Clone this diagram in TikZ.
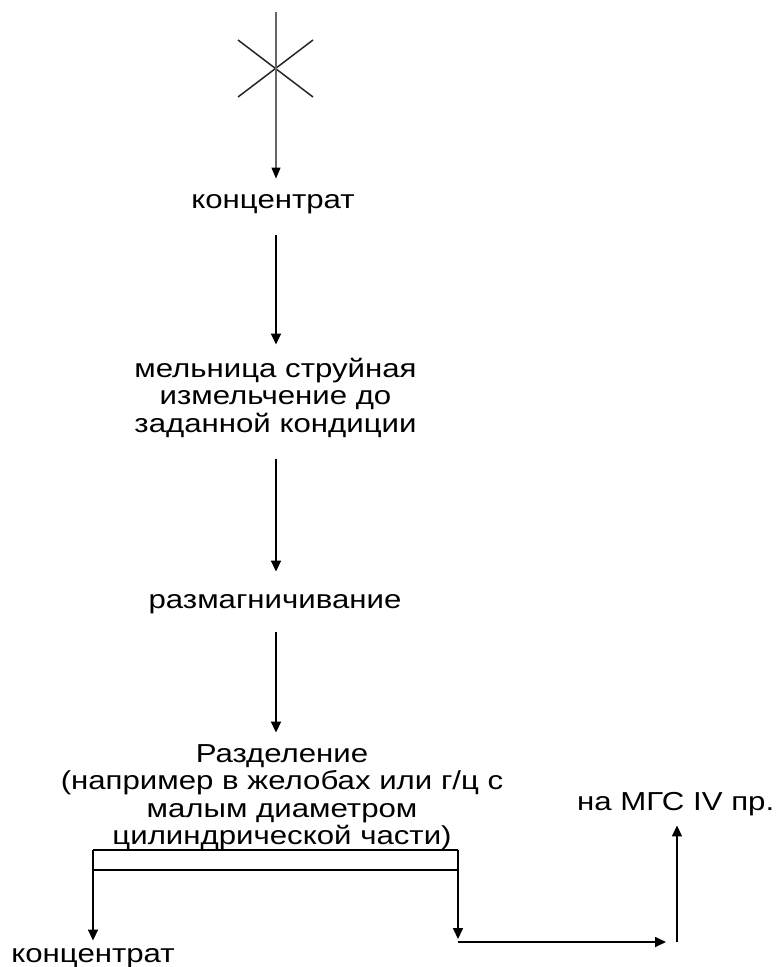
\documentclass[tikz,border=0pt]{standalone}
\usepackage{fontspec}
\setmainfont[FakeStretch=1.2]{Liberation Sans}
\usetikzlibrary{arrows.meta}
\newcommand{\blk}[1]{\setlength{\tabcolsep}{0pt}\begin{tabular}[t]{c}#1\end{tabular}}
\begin{document}
\begin{tikzpicture}[x=1pt,y=-1pt,
  lbl/.style={font=\fontsize{26}{27.5}\selectfont, anchor=base, inner sep=0pt},
  flow/.style={line width=1.7pt, -{Triangle[length=11pt,width=10pt]}},
  feed/.style={line width=1.1pt, black!60, -{Triangle[length=11pt,width=9pt,color=black,fill=black]}},
  plain/.style={line width=1.7pt}]
\useasboundingbox (0,0) rectangle (776,967);
\coordinate (axis) at (276,0);
% top feed with cross
\coordinate (top) at (276,12);
\coordinate (c1) at (238,40);
\coordinate (c2) at (313,97);
\coordinate (c3) at (238,97);
\coordinate (c4) at (313,40);
\draw[line width=1.5pt, black!85] (c1) -- (c2);
\draw[line width=1.5pt, black!85] (c3) -- (c4);
\node[lbl] (k1) at (273,208) {\blk{концентрат}};
\draw[feed, shorten >=10pt] (top) -- (k1.north -| axis);
\node[lbl] (mill) at (275.5,377) {\blk{мельница струйная\\измельчение до\\заданной кондиции}};
\draw[flow, shorten <=19pt, shorten >=13pt] (k1.south -| axis) -- (mill.north -| axis);
\node[lbl] (demag) at (275,608) {\blk{размагничивание}};
\draw[flow, shorten <=18pt, shorten >=17pt] (mill.south -| axis) -- (demag.north -| axis);
\node[lbl] (sep) at (282,762) {\blk{Разделение\\(например в желобах или г/ц с\\малым диаметром\\цилиндрической части)}};
\draw[flow, shorten <=16pt, shorten >=10pt] (demag.south -| axis) -- (sep.north -| axis);
% splitter box
\coordinate (bl) at (93,850);
\coordinate (br) at (458,850);
\coordinate (ml) at (93,870);
\coordinate (mr) at (458,870);
\draw[plain] (bl) -- (br);
\draw[plain] (ml) -- (mr);
\node[lbl] (k2) at (93,962) {\blk{концентрат}};
\coordinate (rt) at (458,939);
\draw[flow, shorten >=2pt] (bl) -- (k2.north -| bl);
\draw[flow] (br) -- (rt);
\coordinate (h1) at (458,942);
\coordinate (h2) at (666,942);
\coordinate (v1) at (677,942);
\node[lbl, anchor=base west] (mgs) at (577,810) {\blk{на МГС IV пр.}};
\draw[flow] (h1) -- (h2);
\draw[flow, shorten >=7pt] (v1) -- (mgs.south -| v1);
\end{tikzpicture}
\end{document}
